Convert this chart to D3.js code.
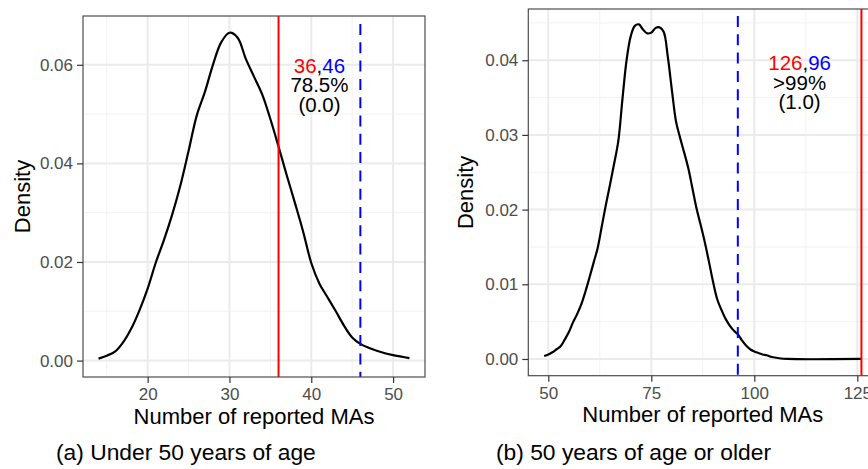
<!DOCTYPE html>
<html>
<head>
<meta charset="utf-8">
<script src="https://cdn.jsdelivr.net/npm/d3@7"></script>
<style>
  html, body { margin: 0; padding: 0; background: #fff; }
  svg { display: block; font-family: "Liberation Sans", Arial, Helvetica, sans-serif; }
</style>
</head>
<body>
<svg id="chart" width="868" height="469"></svg>
<script>
// ---------- data ----------
const leftX = [14,15,16,17,18,19,20,21,22,23,24,25,26,27,28,29,30,31,32,33,34,35,36,37,38,39,40,41,42,43,44,45,46,47,48,49,50,51,52];
const leftDensity = [0.0004,0.0010,0.0018,0.0037,0.0065,0.0102,0.0146,0.0199,0.0245,0.0296,0.0355,0.0425,0.0497,0.0545,0.0601,0.0646,0.0665,0.0655,0.0612,0.0576,0.0540,0.0490,0.0434,0.0376,0.0320,0.0262,0.0198,0.0156,0.0128,0.0100,0.0071,0.0047,0.0034,0.0026,0.0020,0.0015,0.0011,0.0008,0.0005];

const rightX = [49,50,51,52,53,54,55,56,57,58,59,60,61,62,63,64,65,66,67,68,69,70,71,72,73,74,75,76,77,78,79,80,81,82,83,84,85,86,87,88,89,90,91,92,93,94,95,96,97,98,99,100,101,102,103,104,105,106,108,126];
const rightDensity = [0.0004,0.0006,0.0009,0.0013,0.0017,0.0026,0.0036,0.0049,0.0060,0.0073,0.0090,0.0109,0.0129,0.0149,0.0178,0.0207,0.0234,0.0262,0.0292,0.0348,0.0400,0.0432,0.0446,0.0448,0.0441,0.0436,0.0437,0.0443,0.0444,0.0438,0.0405,0.0360,0.0318,0.0296,0.0276,0.0255,0.0228,0.0201,0.0179,0.0156,0.0130,0.0103,0.0080,0.0066,0.0054,0.0045,0.0038,0.0033,0.0025,0.0018,0.0013,0.0010,0.0008,0.0006,0.0005,0.0003,0.0002,0.0001,0.0000,0.0000];

const leftXTicks = [20, 30, 40, 50];
const leftXMinor = [15, 25, 35, 45];
const leftYTicks = [0, 0.02, 0.04, 0.06];
const leftYMinor = [0.01, 0.03, 0.05];
const rightXTicks = [50, 75, 100, 125];
const rightXMinor = [62.5, 87.5, 112.5];
const rightYTicks = [0, 0.01, 0.02, 0.03, 0.04];
const rightYMinor = [0.005, 0.015, 0.025, 0.035, 0.045];

const leftObserved = 36, leftExpected = 46;
const rightObserved = 126, rightExpected = 96;
const leftLabels = ["78.5%", "(0.0)"];
const rightLabels = [">99%", "(1.0)"];
const captions = ["(a) Under 50 years of age", "(b) 50 years of age or older"];
const xTitle = "Number of reported MAs";
const yTitle = "Density";

// ---------- drawing ----------
const svg = d3.select("#chart");

function panel(cfg) {
  const g = svg.append("g");
  const x = d3.scaleLinear().domain(cfg.xDomain).range([cfg.left, cfg.right]);
  const y = d3.scaleLinear().domain(cfg.yDomain).range([cfg.bottom, cfg.top]);

  const clipId = "clip" + cfg.id;
  svg.append("clipPath").attr("id", clipId).append("rect")
    .attr("x", cfg.left).attr("y", cfg.top)
    .attr("width", cfg.right - cfg.left).attr("height", cfg.bottom - cfg.top);

  // minor grid
  g.selectAll(".vminor").data(cfg.xMinor).enter().append("line")
    .attr("x1", d => x(d)).attr("x2", d => x(d)).attr("y1", cfg.top).attr("y2", cfg.bottom)
    .attr("stroke", "#f2f2f2").attr("stroke-width", 1);
  g.selectAll(".hminor").data(cfg.yMinor).enter().append("line")
    .attr("x1", cfg.left).attr("x2", cfg.right).attr("y1", d => y(d)).attr("y2", d => y(d))
    .attr("stroke", "#f2f2f2").attr("stroke-width", 1);
  // major grid
  g.selectAll(".vmajor").data(cfg.xTicks).enter().append("line")
    .attr("x1", d => x(d)).attr("x2", d => x(d)).attr("y1", cfg.top).attr("y2", cfg.bottom)
    .attr("stroke", "#ebebeb").attr("stroke-width", 2);
  g.selectAll(".hmajor").data(cfg.yTicks).enter().append("line")
    .attr("x1", cfg.left).attr("x2", cfg.right).attr("y1", d => y(d)).attr("y2", d => y(d))
    .attr("stroke", "#ebebeb").attr("stroke-width", 2);

  // density curve
  const line = d3.line().x(d => x(d[0])).y(d => y(d[1])).curve(d3.curveCatmullRom.alpha(0.5));
  g.append("path").datum(d3.zip(cfg.xs, cfg.ds))
    .attr("d", line).attr("fill", "none").attr("stroke", "#000").attr("stroke-width", 2.2)
    .attr("clip-path", `url(#${clipId})`);

  // observed (red solid)
  g.append("line")
    .attr("x1", x(cfg.observed)).attr("x2", x(cfg.observed))
    .attr("y1", cfg.top).attr("y2", cfg.bottom)
    .attr("stroke", "#ff0000").attr("stroke-width", 2);
  // expected (blue dashed)
  g.append("line")
    .attr("x1", x(cfg.expected)).attr("x2", x(cfg.expected))
    .attr("y1", cfg.top + cfg.dashStart).attr("y2", cfg.bottom)
    .attr("stroke", "#0000ff").attr("stroke-width", 2)
    .attr("stroke-dasharray", "11,7.3");

  // annotation
  const ax = x((cfg.observed + cfg.expected) / 2);
  const t1 = g.append("text").attr("x", ax).attr("y", cfg.annoY)
    .attr("text-anchor", "middle").attr("font-size", 20.5);
  t1.append("tspan").attr("fill", "#ff0000").text(cfg.observed);
  t1.append("tspan").attr("fill", "#000").text(",");
  t1.append("tspan").attr("fill", "#0000ff").text(cfg.expected);
  cfg.labels.forEach((s, i) => {
    g.append("text").attr("x", ax).attr("y", cfg.annoY + 19.5 * (i + 1))
      .attr("text-anchor", "middle").attr("font-size", 20.5).attr("fill", "#000").text(s);
  });

  // border
  g.append("rect").attr("x", cfg.left).attr("y", cfg.top)
    .attr("width", cfg.right - cfg.left).attr("height", cfg.bottom - cfg.top)
    .attr("fill", "none").attr("stroke", "#4d4d4d").attr("stroke-width", 1.2);

  // axes
  const xAxis = d3.axisBottom(x).tickValues(cfg.xTicks).tickSize(6).tickPadding(5).tickFormat(d3.format("d"));
  const gx = g.append("g").attr("transform", `translate(0,${cfg.bottom})`).call(xAxis);
  const yAxis = d3.axisLeft(y).tickValues(cfg.yTicks).tickSize(6).tickPadding(4).tickFormat(d3.format(".2f"));
  const gy = g.append("g").attr("transform", `translate(${cfg.left},0)`).call(yAxis);
  [gx, gy].forEach(a => {
    a.select(".domain").remove();
    a.selectAll(".tick line").attr("stroke", "#333").attr("stroke-width", 1.2);
    a.selectAll(".tick text").attr("fill", "#4d4d4d").attr("font-size", 17)
      .attr("font-family", "Liberation Sans, Arial, sans-serif");
  });

  // titles
  g.append("text").attr("x", (cfg.left + cfg.right) / 2).attr("y", cfg.bottom + 46.5)
    .attr("text-anchor", "middle").attr("font-size", 22).attr("fill", "#000").text(xTitle);
  g.append("text")
    .attr("transform", `translate(${cfg.yTitleX},${(cfg.top + cfg.bottom) / 2}) rotate(-90)`)
    .attr("text-anchor", "middle").attr("font-size", 22).attr("fill", "#000").text(yTitle);
  g.append("text").attr("x", cfg.capX).attr("y", 459.5)
    .attr("font-size", 22.8).attr("fill", "#000").text(cfg.caption);
}

panel({
  id: "a", left: 83, right: 425, top: 16, bottom: 377,
  xDomain: [12.1, 53.9], yDomain: [-0.00333, 0.0699],
  xs: leftX, ds: leftDensity,
  xTicks: leftXTicks, xMinor: leftXMinor, yTicks: leftYTicks, yMinor: leftYMinor,
  observed: leftObserved, expected: leftExpected, labels: leftLabels,
  annoY: 72.5, dashStart: 8, yTitleX: 29.5, capX: 56, caption: captions[0]
});
panel({
  id: "b", left: 528.3, right: 877.3, top: 9, bottom: 375.7,
  xDomain: [45.15, 129.85], yDomain: [-0.00224, 0.04686],
  xs: rightX, ds: rightDensity,
  xTicks: rightXTicks, xMinor: rightXMinor, yTicks: rightYTicks, yMinor: rightYMinor,
  observed: rightObserved, expected: rightExpected, labels: rightLabels,
  annoY: 70, dashStart: 7, yTitleX: 472.5, capX: 496, caption: captions[1]
});
</script>
</body>
</html>
